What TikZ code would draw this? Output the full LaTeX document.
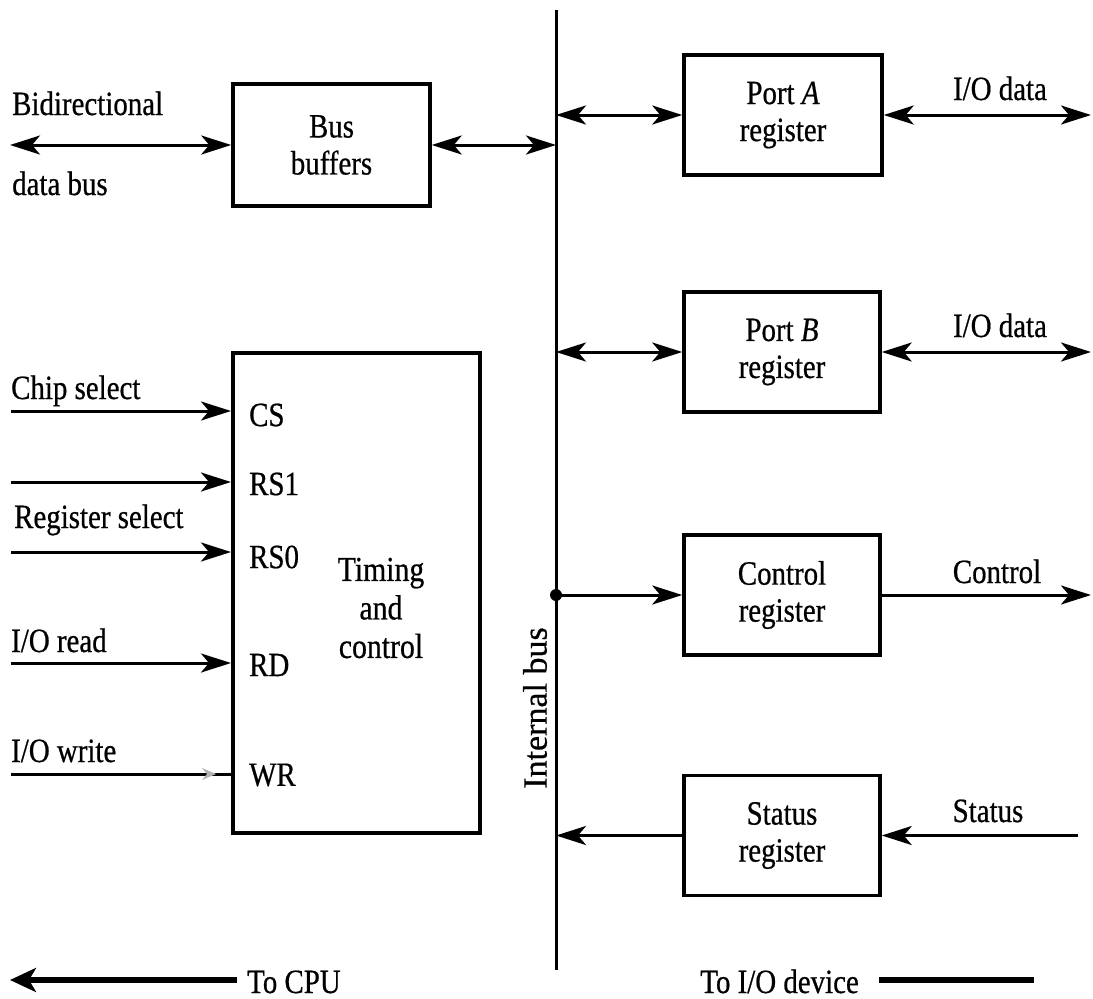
\documentclass[tikz,border=0pt]{standalone}
\usepackage{fontspec}
\setmainfont{Liberation Serif}[FakeStretch=0.85,FakeBold=0.6]
\newfontfamily\widefont{Liberation Serif}[FakeBold=0.6]
\usetikzlibrary{arrows.meta,decorations.markings}
\begin{document}
\begin{tikzpicture}[x=1pt,y=-1pt,
  >={Stealth[length=30pt,width=19pt,inset=8pt]},
  lbl/.style={font=\fontsize{34}{38}\selectfont, inner sep=0pt},
  blk/.style={draw, line width=3.5pt, inner sep=0pt, align=center,
    font=\fontsize{34}{37}\selectfont},
  regbox/.style={blk, minimum width=196pt, minimum height=120pt},
  wire/.style={line width=3pt},
  heavy/.style={line width=6.5pt}
]
\useasboundingbox (0,0) rectangle (1093,999);

% internal bus
\coordinate (bustop) at (556,10);
\coordinate (busbot) at (556,970);
\draw[wire] (bustop) -- (busbot);
\node[lbl, font=\widefont\fontsize{34}{38}\selectfont, rotate=90] (buslbl) at (535,708) {Internal bus};

% bus buffers and CPU data bus
\node[blk, minimum width=197pt, minimum height=122pt] (bb) at (331.5,145) {Bus\\buffers};
\coordinate (dbus) at (10,145);
\coordinate (tapBB) at (556,145);
\draw[wire,<->] (dbus) -- (bb.west);
\draw[wire,<->] (bb.east) -- (tapBB);
\node[lbl, anchor=base west] (bidir) at (12,115) {Bidirectional};
\node[lbl, anchor=base west] (dbuslbl) at (12,195) {data bus};

% port registers
\node[regbox, minimum width=198pt] (pa) at (783,115) {Port \textit{A}\\register};
\node[regbox] (pb) at (782,352) {Port \textit{B}\\register};
\node[regbox] (cr) at (782,595) {Control\\register};
\node[regbox] (sr) at (782,835.5) {Status\\register};

\coordinate (tapA) at (556,115);
\coordinate (tapB) at (556,352);
\coordinate (tapC) at (556,595);
\coordinate (tapS) at (556,835.5);
\coordinate (ioA) at (1091,115);
\coordinate (ioB) at (1091,352);
\coordinate (ioC) at (1091,595);
\coordinate (ioS) at (1078,835.5);

\draw[wire,<->] (tapA) -- (pa.west);
\draw[wire,<->] (pa.east) -- (ioA);
\draw[wire,<->] (tapB) -- (pb.west);
\draw[wire,<->] (pb.east) -- (ioB);
\fill (tapC) circle (6pt);
\draw[wire,->] (tapC) -- (cr.west);
\draw[wire,->] (cr.east) -- (ioC);
\draw[wire,->] (sr.west) -- (tapS);
\draw[wire,->] (ioS) -- (sr.east);

\node[lbl, anchor=base] (ioAlbl) at (1000,100) {I/O data};
\node[lbl, anchor=base] (ioBlbl) at (1000,337) {I/O data};
\node[lbl, anchor=base] (ctllbl) at (997,583) {Control};
\node[lbl, anchor=base] (stslbl) at (988,822) {Status};

% timing and control block
\node[draw, line width=4pt, minimum width=247pt, minimum height=480pt, inner sep=0pt] (tc) at (356.5,593) {};
\node[lbl, align=center, font=\fontsize{35}{38.5}\selectfont] (tctext) at (381,608) {Timing\\and\\control};

\coordinate (inCS) at (11,411);
\coordinate (inRSa) at (11,482);
\coordinate (inRSb) at (11,552);
\coordinate (inRD) at (11,663);
\coordinate (inWR) at (11,774);
\draw[wire,->] (inCS) -- (inCS -| tc.west);
\draw[wire,->] (inRSa) -- (inRSa -| tc.west);
\draw[wire,->] (inRSb) -- (inRSb -| tc.west);
\draw[wire,->] (inRD) -- (inRD -| tc.west);
\draw[wire, postaction={decorate, decoration={markings,
    mark=at position 205pt with {\arrow[gray!60]{Stealth[length=14pt,width=12pt,inset=5pt]}}}}]
  (inWR) -- (inWR -| tc.west);

\node[lbl, anchor=west] (pCS) at (249,415) {CS};
\node[lbl, anchor=west] (pRSa) at (249,484) {RS1};
\node[lbl, anchor=west] (pRSb) at (249,557) {RS0};
\node[lbl, anchor=west] (pRD) at (249,665) {RD};
\node[lbl, anchor=west] (pWR) at (249,775) {WR};

\node[lbl, anchor=base west] (cslbl) at (11,399) {Chip select};
\node[lbl, anchor=base west] (rslbl) at (14,528) {Register select};
\node[lbl, anchor=base west] (rdlbl) at (11,652) {I/O read};
\node[lbl, anchor=base west] (wrlbl) at (11,762) {I/O write};

% direction legend
\coordinate (cpuend) at (10,980);
\node[lbl, anchor=base west] (tocpu) at (247,993) {To CPU};
\draw[heavy, -{Stealth[length=26pt,width=24pt,inset=7pt]}] (tocpu.west |- cpuend) ++(-10,0) -- (cpuend);
\node[lbl, anchor=base east] (todev) at (859,993) {To I/O device};
\coordinate (devend) at (1034,980);
\draw[heavy] (todev.east |- devend) ++(20,0) -- (devend);
\end{tikzpicture}
\end{document}
